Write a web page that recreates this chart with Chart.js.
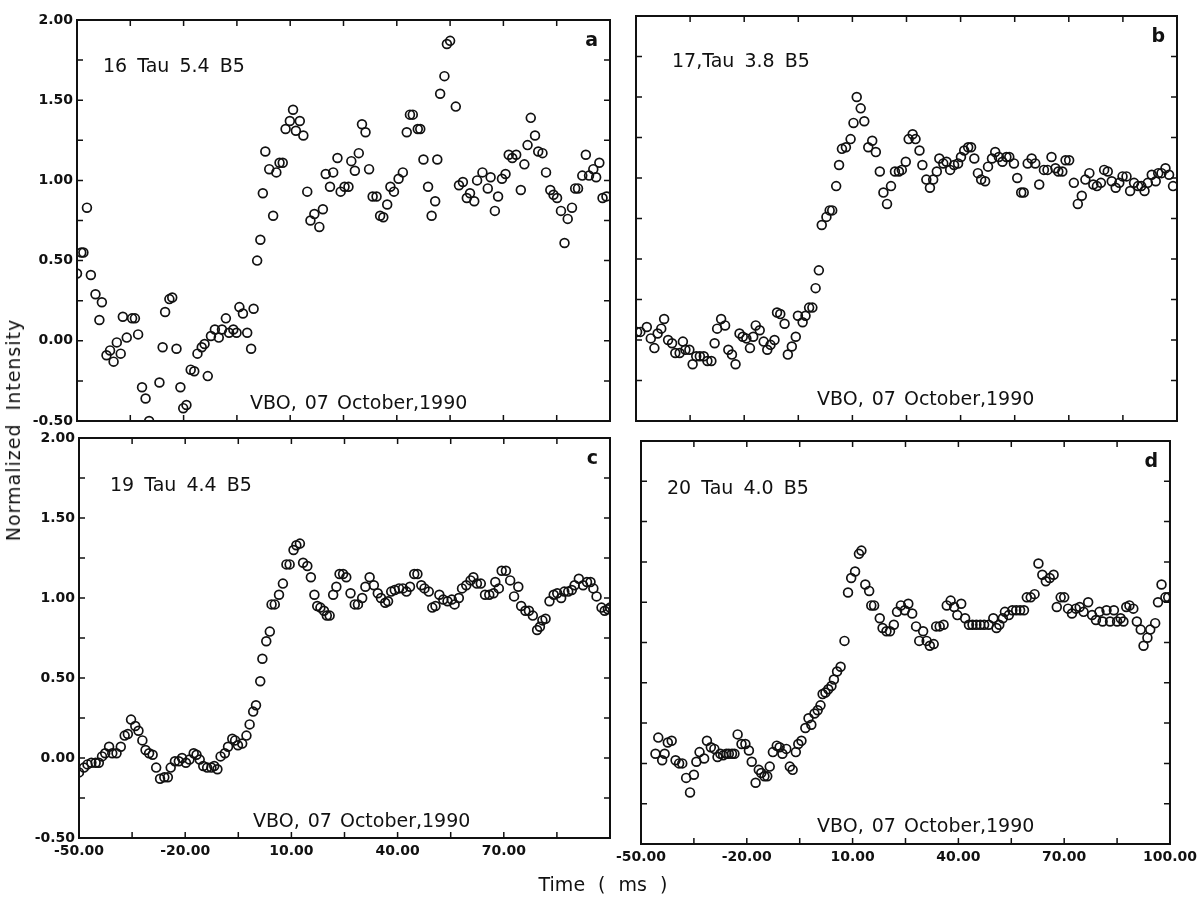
<!DOCTYPE html>
<html>
<head>
<meta charset="utf-8">
<script src="https://cdn.jsdelivr.net/npm/chart.js@4.4.1/dist/chart.umd.min.js"></script>
<style>
  body { margin: 0; background: #fff; }
  #wrap { position: relative; width: 1202px; height: 897px; overflow: hidden; background: #fff; }
  #wrap canvas { position: absolute; left: 0; top: 0; }
  .title { position: absolute; font-family: "DejaVu Sans", sans-serif; font-size: 19px; color: #111; white-space: nowrap; }
  #ytitle { letter-spacing: 1px; word-spacing: 6px; }
  #xtitle { word-spacing: 7px; }
</style>
</head>
<body>
<div id="wrap">
  <canvas id="pa" width="1202" height="897"></canvas>
  <canvas id="pb" width="1202" height="897"></canvas>
  <canvas id="pc" width="1202" height="897"></canvas>
  <canvas id="pd" width="1202" height="897"></canvas>
  <div class="title" id="ytitle">Normalized Intensity</div>
  <div class="title" id="xtitle">Time ( ms )</div>
</div>
<script>
// tick positions and labels
const xTicks = [-50, -35, -20, -5, 10, 25, 40, 55, 70, 85, 100];
const xLabelsC = ['-50.00', '', '-20.00', '', '10.00', '', '40.00', '', '70.00', '', ''];
const xLabelsD = ['-50.00', '', '-20.00', '', '10.00', '', '40.00', '', '70.00', '', '100.00'];
const yTicks = [-0.5, -0.25, 0, 0.25, 0.5, 0.75, 1, 1.25, 1.5, 1.75, 2];
const yLabels = ['-0.50', '', '0.00', '', '0.50', '', '1.00', '', '1.50', '', '2.00'];

// panel a : 16 Tau
const timeA = [-50.0,-48.8,-48.2,-47.2,-46.1,-44.8,-43.7,-43.0,-41.7,-40.7,
  -39.7,-38.8,-37.7,-37.1,-36.0,-34.5,-33.7,-32.8,-31.7,-30.7,
  -29.7,-26.8,-25.9,-25.2,-24.0,-23.2,-22.0,-20.9,-20.1,-19.2,
  -18.0,-17.0,-16.1,-14.9,-14.1,-13.2,-12.3,-11.2,-10.1,-9.2,
  -8.1,-7.2,-6.0,-5.1,-4.3,-3.3,-2.1,-1.0,-0.3,0.7,
  1.6,2.3,3.0,4.1,5.2,6.1,7.0,7.9,8.7,9.9,
  10.8,11.6,12.7,13.7,14.8,15.7,16.8,18.2,19.2,20.0,
  21.2,22.1,23.3,24.2,25.3,26.4,27.2,28.2,29.3,30.2,
  31.2,32.2,33.2,34.3,35.3,36.2,37.3,38.2,39.2,40.5,
  41.7,42.8,43.7,44.5,45.9,46.6,47.5,48.8,49.8,50.8,
  51.4,52.2,53.4,54.1,55.0,56.6,57.5,58.6,59.7,60.6,
  61.8,62.6,64.1,65.6,66.4,67.6,68.5,69.6,70.6,71.5,
  72.5,73.6,74.9,75.9,76.8,77.7,78.9,79.8,81.0,82.0,
  83.2,84.1,85.1,86.2,87.2,88.1,89.3,90.2,91.0,92.2,
  93.2,94.1,95.3,96.1,97.0,97.9,99.0];
const intensityA = [0.42,0.55,0.55,0.83,0.41,0.29,0.13,0.24,-0.09,-0.06,
  -0.13,-0.01,-0.08,0.15,0.02,0.14,0.14,0.04,-0.29,-0.36,
  -0.50,-0.26,-0.04,0.18,0.26,0.27,-0.05,-0.29,-0.42,-0.40,
  -0.18,-0.19,-0.08,-0.04,-0.02,-0.22,0.03,0.07,0.02,0.07,
  0.14,0.05,0.07,0.05,0.21,0.17,0.05,-0.05,0.20,0.50,
  0.63,0.92,1.18,1.07,0.78,1.05,1.11,1.11,1.32,1.37,
  1.44,1.31,1.37,1.28,0.93,0.75,0.79,0.71,0.82,1.04,
  0.96,1.05,1.14,0.93,0.96,0.96,1.12,1.06,1.17,1.35,
  1.30,1.07,0.90,0.90,0.78,0.77,0.85,0.96,0.93,1.01,
  1.05,1.30,1.41,1.41,1.32,1.32,1.13,0.96,0.78,0.87,
  1.13,1.54,1.65,1.85,1.87,1.46,0.97,0.99,0.89,0.92,
  0.87,1.00,1.05,0.95,1.02,0.81,0.90,1.01,1.04,1.16,
  1.14,1.16,0.94,1.10,1.22,1.39,1.28,1.18,1.17,1.05,
  0.94,0.91,0.89,0.81,0.61,0.76,0.83,0.95,0.95,1.03,
  1.16,1.03,1.07,1.02,1.11,0.89,0.90];

// panel b : 17 Tau
const timeB = [-49.7,-48.8,-47.0,-45.9,-44.9,-44.0,-43.0,-42.2,-41.1,-40.0,
  -39.1,-37.9,-37.0,-36.3,-35.2,-34.3,-33.3,-32.3,-31.2,-30.2,
  -29.1,-28.2,-27.5,-26.4,-25.3,-24.4,-23.4,-22.4,-21.3,-20.4,
  -19.4,-18.4,-17.5,-16.8,-15.7,-14.6,-13.6,-12.7,-11.6,-10.9,
  -10.0,-8.8,-7.9,-6.8,-5.7,-5.1,-3.8,-3.0,-2.0,-1.1,
  -0.2,0.7,1.5,2.8,3.7,4.4,5.5,6.3,7.1,8.2,
  9.5,10.3,11.2,12.3,13.3,14.4,15.5,16.5,17.6,18.6,
  19.6,20.7,21.8,22.9,23.7,24.8,25.6,26.7,27.5,28.6,
  29.4,30.5,31.5,32.4,33.4,34.1,35.2,36.1,37.1,38.2,
  39.3,40.1,41.0,42.1,42.9,43.8,44.8,45.7,46.8,47.6,
  48.7,49.6,50.6,51.6,52.7,53.5,54.8,55.7,56.8,57.5,
  58.6,59.7,60.7,61.8,63.1,64.1,65.2,66.3,67.1,68.2,
  69.1,70.1,71.4,72.5,73.6,74.6,75.7,76.8,77.8,78.9,
  79.8,80.8,81.9,83.0,84.0,84.9,86.0,87.0,88.1,89.2,
  90.1,91.0,91.9,93.0,94.1,94.8,95.7,96.8,97.8,98.9];
const intensityB = [0.05,0.05,0.08,0.01,-0.05,0.04,0.07,0.13,0.00,-0.02,
  -0.08,-0.08,-0.01,-0.06,-0.06,-0.15,-0.10,-0.10,-0.10,-0.13,
  -0.13,-0.02,0.07,0.13,0.09,-0.06,-0.09,-0.15,0.04,0.02,
  0.01,-0.05,0.02,0.09,0.06,-0.01,-0.06,-0.03,0.00,0.17,
  0.16,0.10,-0.09,-0.04,0.02,0.15,0.11,0.15,0.20,0.20,
  0.32,0.43,0.71,0.76,0.80,0.80,0.95,1.08,1.18,1.19,
  1.24,1.34,1.50,1.43,1.35,1.19,1.23,1.16,1.04,0.91,
  0.84,0.95,1.04,1.04,1.05,1.10,1.24,1.27,1.24,1.17,
  1.08,0.99,0.94,0.99,1.04,1.12,1.09,1.10,1.05,1.08,
  1.09,1.13,1.17,1.19,1.19,1.12,1.03,0.99,0.98,1.07,
  1.12,1.16,1.13,1.10,1.13,1.13,1.09,1.00,0.91,0.91,
  1.09,1.12,1.09,0.96,1.05,1.05,1.13,1.06,1.04,1.04,
  1.11,1.11,0.97,0.84,0.89,0.99,1.03,0.96,0.95,0.97,
  1.05,1.04,0.98,0.94,0.97,1.01,1.01,0.92,0.97,0.95,
  0.95,0.92,0.97,1.02,0.98,1.03,1.03,1.06,1.02,0.95];

// panel c : 19 Tau
const timeC = [-50.0,-48.6,-47.6,-46.5,-45.3,-44.4,-43.5,-42.6,-41.5,-40.6,
  -39.4,-38.2,-37.1,-36.2,-35.3,-34.1,-33.2,-32.1,-31.2,-30.2,
  -29.2,-28.2,-27.1,-25.9,-24.9,-24.1,-22.9,-21.8,-20.9,-19.8,
  -18.8,-17.6,-16.8,-15.9,-14.9,-13.8,-12.6,-11.8,-10.9,-10.0,
  -8.8,-7.9,-6.7,-5.9,-5.1,-3.9,-2.7,-1.8,-0.8,0.0,
  1.2,1.8,2.9,3.9,4.4,5.3,6.5,7.6,8.6,9.5,
  10.6,11.4,12.4,13.3,14.5,15.5,16.5,17.3,18.2,19.2,
  20.0,20.8,21.8,22.7,23.6,24.6,25.5,26.7,27.9,28.8,
  30.0,30.9,32.1,33.3,34.4,35.3,36.5,37.3,38.2,39.2,
  40.4,41.5,42.5,43.5,44.7,45.6,46.7,47.6,48.8,49.8,
  50.7,51.8,52.9,54.1,55.3,56.1,57.3,58.2,59.4,60.6,
  61.4,62.4,63.5,64.7,65.9,67.1,67.6,68.6,69.4,70.6,
  71.8,72.9,74.1,74.9,76.1,77.1,78.2,79.4,80.2,80.9,
  81.8,82.9,84.1,85.1,86.2,87.1,88.2,89.2,90.0,91.2,
  92.4,93.5,94.5,95.3,96.2,97.6,98.5,99.4,100.0];
const intensityC = [-0.09,-0.06,-0.04,-0.03,-0.03,-0.03,0.01,0.03,0.07,0.03,
  0.03,0.07,0.14,0.15,0.24,0.20,0.17,0.11,0.05,0.03,
  0.02,-0.06,-0.13,-0.12,-0.12,-0.06,-0.02,-0.02,0.00,-0.03,
  -0.01,0.03,0.02,-0.01,-0.05,-0.06,-0.06,-0.05,-0.07,0.01,
  0.03,0.07,0.12,0.11,0.08,0.09,0.14,0.21,0.29,0.33,
  0.48,0.62,0.73,0.79,0.96,0.96,1.02,1.09,1.21,1.21,
  1.30,1.33,1.34,1.22,1.20,1.13,1.02,0.95,0.94,0.92,
  0.89,0.89,1.02,1.07,1.15,1.15,1.13,1.03,0.96,0.96,
  1.00,1.07,1.13,1.08,1.03,1.00,0.97,0.98,1.04,1.05,
  1.06,1.06,1.04,1.07,1.15,1.15,1.08,1.06,1.04,0.94,
  0.95,1.02,0.99,0.98,0.99,0.96,1.00,1.06,1.08,1.11,
  1.13,1.09,1.09,1.02,1.02,1.03,1.10,1.06,1.17,1.17,
  1.11,1.01,1.07,0.95,0.92,0.92,0.89,0.80,0.82,0.86,
  0.87,0.98,1.02,1.03,1.00,1.04,1.04,1.05,1.08,1.12,
  1.08,1.10,1.10,1.06,1.01,0.94,0.92,0.93,0.94];

// panel d : 20 Tau
const timeD = [-45.9,-45.1,-44.0,-43.3,-42.4,-41.3,-40.2,-39.2,-38.3,-37.2,
  -36.1,-35.0,-34.3,-33.4,-32.1,-31.3,-30.2,-29.2,-28.3,-27.5,
  -26.7,-25.8,-25.1,-24.2,-23.5,-22.6,-21.5,-20.4,-19.4,-18.6,
  -17.5,-16.6,-15.9,-15.0,-14.2,-13.5,-12.6,-11.5,-10.7,-9.9,
  -8.8,-7.8,-7.0,-6.1,-5.4,-4.5,-3.4,-2.5,-1.7,-0.8,
  0.1,0.9,1.5,2.3,3.1,4.0,4.7,5.6,6.6,7.7,
  8.7,9.6,10.7,11.8,12.5,13.6,14.7,15.3,16.1,17.7,
  18.5,19.6,20.6,21.7,22.6,23.7,24.8,25.8,26.9,28.0,
  28.9,30.0,31.0,31.9,33.0,33.7,34.7,35.8,36.7,37.8,
  38.8,39.7,40.8,41.9,43.0,44.0,45.1,46.2,47.3,48.6,
  49.9,50.8,51.6,52.6,53.2,54.3,55.3,56.4,57.5,58.6,
  59.4,60.5,61.6,62.7,63.8,64.8,65.9,67.0,67.9,69.0,
  70.0,71.1,72.2,73.3,74.4,75.5,76.8,77.9,79.0,80.0,
  80.9,82.0,83.0,84.1,85.0,86.0,86.8,87.6,88.5,89.6,
  90.6,91.7,92.5,93.6,94.4,95.8,96.6,97.6,98.7,99.5];
const intensityD = [0.06,0.16,0.02,0.06,0.13,0.14,0.02,0.00,0.00,-0.09,
  -0.18,-0.07,0.01,0.07,0.03,0.14,0.10,0.09,0.04,0.06,
  0.05,0.06,0.06,0.06,0.06,0.18,0.12,0.12,0.08,0.01,
  -0.12,-0.04,-0.06,-0.08,-0.08,-0.02,0.07,0.11,0.10,0.06,
  0.09,-0.02,-0.04,0.07,0.12,0.14,0.22,0.28,0.24,0.31,
  0.33,0.36,0.43,0.44,0.46,0.48,0.52,0.57,0.60,0.76,
  1.06,1.15,1.19,1.30,1.32,1.11,1.07,0.98,0.98,0.90,
  0.84,0.82,0.82,0.86,0.94,0.98,0.95,0.99,0.93,0.85,
  0.76,0.82,0.76,0.73,0.74,0.85,0.85,0.86,0.98,1.01,
  0.97,0.92,0.99,0.90,0.86,0.86,0.86,0.86,0.86,0.86,
  0.90,0.84,0.86,0.90,0.94,0.92,0.95,0.95,0.95,0.95,
  1.03,1.03,1.05,1.24,1.17,1.13,1.15,1.17,0.97,1.03,
  1.03,0.96,0.93,0.96,0.97,0.94,1.00,0.92,0.89,0.94,
  0.88,0.95,0.88,0.95,0.88,0.90,0.88,0.97,0.98,0.96,
  0.88,0.83,0.73,0.78,0.83,0.87,1.00,1.11,1.03,1.03];

const W = 1202, H = 897;
const INK = '#111';
const FONT = '"DejaVu Sans", sans-serif';

// frame, inward ticks and in-panel text
const panelPlugin = {
  id: 'panelDeco',
  afterDatasetsDraw(chart) {
    const { ctx, chartArea: a, scales: { x, y } } = chart;
    const o = chart.options.plugins.panelDeco;
    ctx.save();
    ctx.strokeStyle = INK;
    ctx.lineWidth = 2;
    ctx.strokeRect(a.left, a.top, a.right - a.left, a.bottom - a.top);
    ctx.lineWidth = 1.5;
    ctx.beginPath();
    const tl = 6;
    x.ticks.forEach(t => {
      const px = x.getPixelForValue(t.value);
      ctx.moveTo(px, a.bottom); ctx.lineTo(px, a.bottom - tl);
      ctx.moveTo(px, a.top); ctx.lineTo(px, a.top + tl);
    });
    y.ticks.forEach(t => {
      const py = y.getPixelForValue(t.value);
      ctx.moveTo(a.left, py); ctx.lineTo(a.left + tl, py);
      ctx.moveTo(a.right, py); ctx.lineTo(a.right - tl, py);
    });
    ctx.stroke();

    ctx.fillStyle = INK;
    ctx.textBaseline = 'alphabetic';
    ctx.font = '19px ' + FONT;
    ctx.textAlign = 'left';
    ctx.wordSpacing = '4px';
    ctx.fillText(o.star, a.left + o.starX, a.top + o.starY);
    ctx.wordSpacing = '2px';
    ctx.fillText('VBO, 07 October,1990', a.left + o.vboX, a.bottom - o.vboY);
    ctx.wordSpacing = '0px';
    ctx.font = 'bold 19px ' + FONT;
    ctx.textAlign = 'right';
    ctx.fillText(o.letter, a.right - 12, a.top + 26);
    ctx.restore();
  }
};

function makePanel(id, times, values, box, deco) {
  const pts = times.map((t, i) => ({ x: t, y: values[i] }));
  new Chart(document.getElementById(id), {
    type: 'scatter',
    data: {
      datasets: [{
        data: pts,
        pointStyle: 'circle',
        pointRadius: 4.4,
        pointBorderWidth: 1.7,
        pointBorderColor: INK,
        pointBackgroundColor: 'rgba(0,0,0,0)'
      }]
    },
    options: {
      responsive: false,
      animation: false,
      events: [],
      layout: { padding: { left: 0, top: box.top, right: W - box.right, bottom: 0 } },
      plugins: {
        legend: { display: false },
        tooltip: { enabled: false },
        panelDeco: deco
      },
      scales: {
        x: {
          type: 'linear',
          min: -50, max: 100,
          afterBuildTicks: s => { s.ticks = xTicks.map(v => ({ value: v })); },
          afterFit: s => { s.height = H - box.bottom; },
          grid: { display: false, drawTicks: false },
          border: { display: false },
          ticks: {
            display: !!box.xLabels,
            autoSkip: false,
            maxRotation: 0,
            padding: 5,
            color: INK,
            font: { family: FONT, size: 14, weight: 'bold' },
            callback: (v, i) => box.xLabels ? box.xLabels[i] : ''
          }
        },
        y: {
          type: 'linear',
          min: -0.5, max: 2,
          afterBuildTicks: s => { s.ticks = yTicks.map(v => ({ value: v })); },
          afterFit: s => { s.width = box.left; },
          grid: { display: false, drawTicks: false },
          border: { display: false },
          ticks: {
            display: !!box.yLabels,
            autoSkip: false,
            padding: 4,
            color: INK,
            font: { family: FONT, size: 14, weight: 'bold' },
            callback: (v, i) => yLabels[i]
          }
        }
      }
    },
    plugins: [panelPlugin]
  });
}

makePanel('pa', timeA, intensityA, { left: 77, right: 610, top: 20, bottom: 421, yLabels: true },
  { star: '16 Tau 5.4 B5', starX: 26, starY: 52, vboX: 173, vboY: 12, letter: 'a' });
makePanel('pb', timeB, intensityB, { left: 636, right: 1177, top: 16, bottom: 421 },
  { star: '17,Tau 3.8 B5', starX: 36, starY: 51, vboX: 181, vboY: 16, letter: 'b' });
makePanel('pc', timeC, intensityC, { left: 79, right: 610, top: 438, bottom: 838, yLabels: true, xLabels: xLabelsC },
  { star: '19 Tau 4.4 B5', starX: 31, starY: 53, vboX: 174, vboY: 11, letter: 'c' });
makePanel('pd', timeD, intensityD, { left: 641, right: 1174, top: 441, bottom: 844, xLabels: xLabelsD },
  { star: '20 Tau 4.0 B5', starX: 26, starY: 53, vboX: 176, vboY: 12, letter: 'd' });

// shared axis titles
const yt = document.getElementById('ytitle');
yt.style.left = '13px';
yt.style.top = '430px';
yt.style.transform = 'translate(-50%, -50%) rotate(-90deg)';
const xt = document.getElementById('xtitle');
xt.style.left = '603px';
xt.style.top = '884px';
xt.style.transform = 'translate(-50%, -50%)';
</script>
</body>
</html>
